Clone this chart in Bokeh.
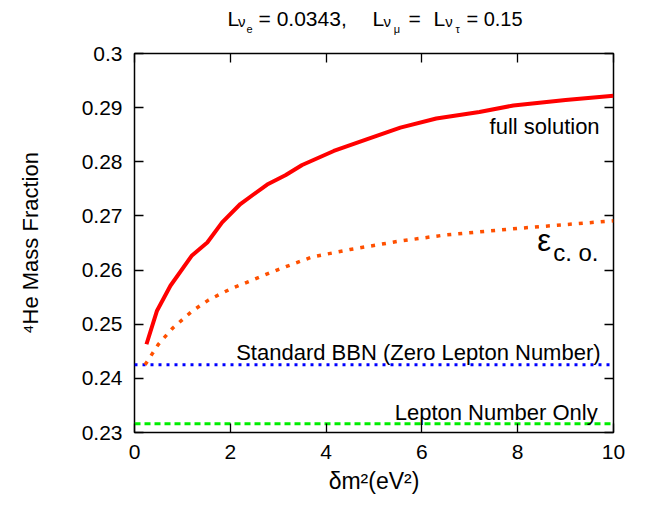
from bokeh.plotting import figure
from bokeh.models import Range1d, LinearAxis, FixedTicker, CustomJSTickFormatter
from bokeh.layouts import column
from bokeh.core.properties import value
from bokeh.embed import file_html
from bokeh.resources import INLINE

FONT = "Liberation Sans"

# Data
full_x = [0.25, 0.47, 0.75, 1.2, 1.52, 1.83, 2.21, 2.77, 3.15, 3.5, 4.16, 4.86, 5.55, 6.3, 7.2, 7.91, 9.0, 10.0]
full_y = [0.2463, 0.2525, 0.2571, 0.2627, 0.2651, 0.2688, 0.2722, 0.2758, 0.2775, 0.2794, 0.2820, 0.2842,
          0.2863, 0.2880, 0.2892, 0.2904, 0.2914, 0.2922]

eco_x = [0.22, 0.5, 0.8, 1.2, 1.55, 2.0, 2.5, 3.0, 3.7, 4.5, 5.5, 6.5, 8.0, 10.0]
eco_y = [0.2425, 0.2463, 0.2493, 0.2524, 0.2545, 0.2565, 0.2583, 0.2601, 0.2624, 0.2638, 0.2653, 0.2665,
         0.2677, 0.2691]

std_x = [0.0, 10.0]
std_y = [0.2425, 0.2425]

lep_x = [0.0, 10.0]
lep_y = [0.2316, 0.2316]

x_ticks = [0, 2, 4, 6, 8, 10]
y_ticks = [0.23, 0.24, 0.25, 0.26, 0.27, 0.28, 0.29, 0.30]

tf = value(FONT)

# ---- title strip (nested subscripts); shares the x scale of the main plot ----
TH = 40
t = figure(width=650, height=TH, output_backend="svg", toolbar_location=None,
           x_range=Range1d(0, 10), y_range=Range1d(0, TH),
           min_border_left=134, min_border_right=37, min_border_top=0, min_border_bottom=0,
           background_fill_color="white", border_fill_color="white")
t.axis.visible = False
t.grid.visible = False
t.outline_line_color = None

title_text = ["L", "ν", "e", "= 0.0343,", "L", "ν", "μ", "=", "L", "ν", "τ", "= 0.15"]
title_size = ["21px", "15px", "11px", "21px", "21px", "15px", "11px", "21px", "21px", "15px", "11px", "20px"]
title_x = [1.94, 2.16, 2.34, 2.59, 4.97, 5.20, 5.41, 5.72, 6.24, 6.49, 6.70, 6.93]
title_y = [22, 19, 12, 22, 22, 19, 12, 22, 22, 19, 12, 22]
for tx, ty, tt, ts in zip(title_x, title_y, title_text, title_size):
    t.text(x=[tx], y=[ty], text=[tt], text_font=tf, text_font_size=ts,
           text_align="left", text_baseline="alphabetic", text_color="black")

# ---- main plot ----
p = figure(width=650, height=506 - TH, output_backend="svg", toolbar_location=None,
           x_range=Range1d(0, 10), y_range=Range1d(0.23, 0.30),
           min_border_left=134, min_border_right=37, min_border_top=13, min_border_bottom=74,
           background_fill_color="white", border_fill_color="white")
p.grid.visible = False
p.outline_line_color = "black"
p.outline_line_width = 1.5

fmt = CustomJSTickFormatter(code="return String(Math.round(tick*100)/100);")
blank = CustomJSTickFormatter(code="return '';")

def style_axis(ax, labels=True):
    ax.axis_line_color = None
    ax.major_tick_in = 9
    ax.major_tick_out = 0
    ax.major_tick_line_width = 1.3
    ax.minor_tick_line_color = None
    ax.major_label_text_font = FONT
    ax.major_label_text_font_size = "21px" if labels else "0px"
    ax.major_label_text_color = "black"
    ax.axis_label_text_font = FONT
    ax.axis_label_text_font_style = "normal"
    ax.axis_label_text_font_size = "22px"
    ax.axis_label_text_color = "black"
    if not labels:
        ax.major_label_standoff = 0
        ax.formatter = blank

xa = p.xaxis[0]
xa.ticker = FixedTicker(ticks=x_ticks)
style_axis(xa)
xa.major_label_standoff = 12
xa.axis_label = "δm²(eV²)"
xa.axis_label_text_font_size = "23px"
xa.axis_label_standoff = 6

ya = p.yaxis[0]
ya.ticker = FixedTicker(ticks=y_ticks)
ya.formatter = fmt
style_axis(ya)
ya.major_label_standoff = 12
ya.axis_label = "⁴He Mass Fraction"
ya.axis_label_standoff = 36

top = LinearAxis(ticker=FixedTicker(ticks=x_ticks))
style_axis(top, labels=False)
p.add_layout(top, "above")
right = LinearAxis(ticker=FixedTicker(ticks=y_ticks))
style_axis(right, labels=False)
p.add_layout(right, "right")

p.line(lep_x, lep_y, line_color="#00ee00", line_width=3, line_dash="6 4")
p.line(std_x, std_y, line_color="#0000ff", line_width=3, line_dash="3 5")
p.line(eco_x, eco_y, line_color="#ff5000", line_width=3.5, line_dash="4 7")
p.line(full_x, full_y, line_color="#ff0000", line_width=4)

p.text(x=[9.71], y=[0.2865], text=["full solution"], text_font=tf, text_font_size="22px",
       text_align="right", text_baseline="alphabetic", text_color="black")
p.text(x=[9.73], y=[0.2447], text=["Standard BBN (Zero Lepton Number)"], text_font=tf,
       text_font_size="22px", text_align="right", text_baseline="alphabetic", text_color="black")
p.text(x=[9.67], y=[0.2337], text=["Lepton Number Only"], text_font=tf, text_font_size="22px",
       text_align="right", text_baseline="alphabetic", text_color="black")
p.text(x=[8.41], y=[0.2654], text=["ε"], text_font=tf, text_font_size="31px",
       text_align="left", text_baseline="alphabetic", text_color="black")
p.text(x=[8.74], y=[0.2633], text=["c. o."], text_font=tf, text_font_size="24px",
       text_align="left", text_baseline="alphabetic", text_color="black")

layout = column(t, p, spacing=0)
open("out.html", "w").write(file_html(layout, INLINE))
